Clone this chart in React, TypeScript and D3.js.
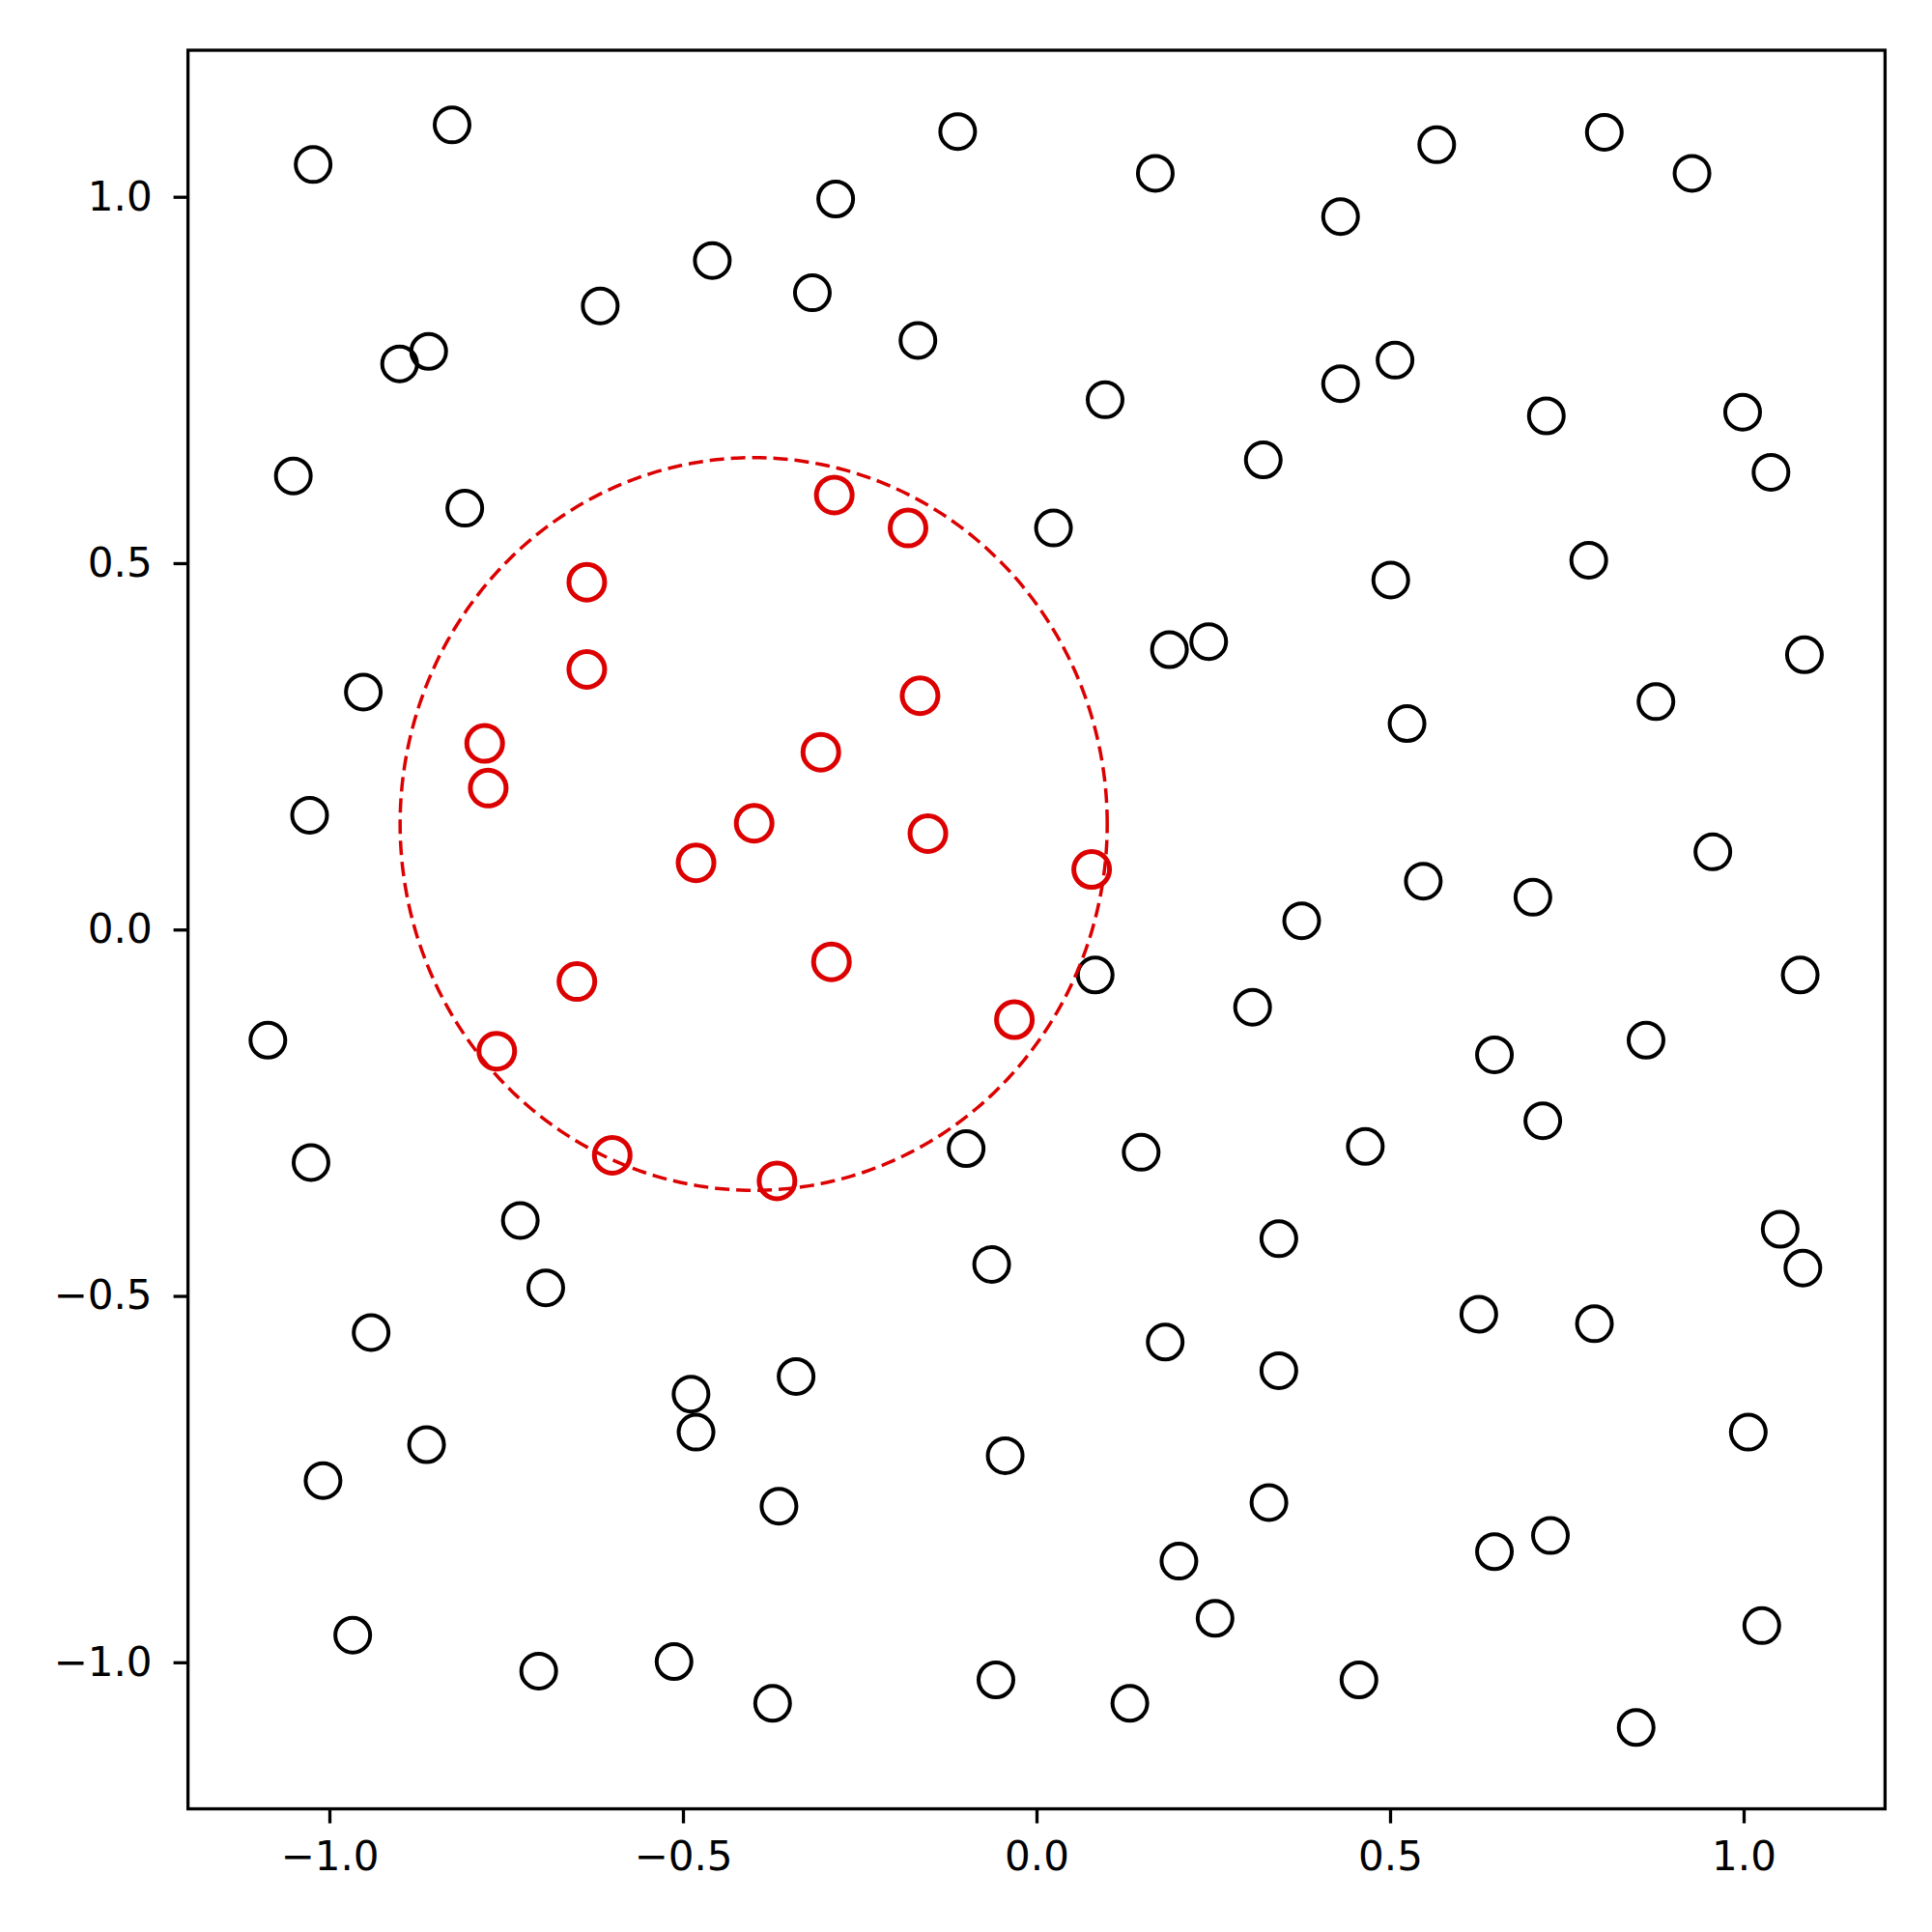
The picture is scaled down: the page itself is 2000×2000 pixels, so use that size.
import React, { useEffect, useRef } from 'react';
import * as d3 from 'd3';

// points outside the circle
const outsideX = [
  -1.023, -0.8265, -0.1115, -0.284, 0.168, 0.566, 0.803, 0.927, 0.43, -0.4585,
  -0.317, -0.617, -0.8596, -0.9007, -0.1677, 0.507, 0.43, 0.097, 0.721, 0.9986,
  -1.051, 0.3207, 1.0387, -0.8085, 0.024, 0.781, 0.501, 0.188, 0.2435, 1.086,
  -0.952, 0.876, 0.524, -1.028, 0.9565, 0.547, 0.702, 0.375, 0.083, 1.08,
  0.3056, -1.087, 0.862, 0.6476, 0.716, -0.0995, 0.148, 0.465, -1.026, -0.73,
  1.0517, 0.3427, -0.0634, 1.0838, -0.694, 0.6255, -0.941, 0.789, 0.182, -0.34,
  0.3427, -0.4886, -0.4815, 1.0066, -0.8626, -0.0443, -1.009, -0.3642, 0.3287, 0.7268,
  0.6476, 0.2014, 0.2525, 1.0257, -0.967, -0.704, -0.5126, -0.0574, 0.456, -0.3732,
  0.132, 0.848,
];
const outsideY = [
  1.044, 1.098, 1.089, 0.997, 1.032, 1.071, 1.088, 1.032, 0.973, 0.913,
  0.869, 0.851, 0.789, 0.772, 0.804, 0.777, 0.745, 0.723, 0.701, 0.706,
  0.619, 0.641, 0.624, 0.575, 0.548, 0.504, 0.477, 0.382, 0.393, 0.375,
  0.324, 0.311, 0.281, 0.156, 0.106, 0.066, 0.044, 0.012, -0.062, -0.062,
  -0.106, -0.151, -0.151, -0.171, -0.261, -0.299, -0.304, -0.296, -0.318, -0.397,
  -0.409, -0.422, -0.457, -0.462, -0.489, -0.525, -0.55, -0.538, -0.563, -0.61,
  -0.602, -0.634, -0.686, -0.686, -0.703, -0.718, -0.752, -0.787, -0.782, -0.827,
  -0.849, -0.862, -0.94, -0.95, -0.963, -1.012, -0.999, -1.024, -1.024, -1.056,
  -1.056, -1.089,
];

// points inside the circle
const insideX = [
  -0.286, -0.1817, -0.636, -0.636, -0.1647, -0.7804, -0.305, -0.7754, -0.3993,
  -0.1536, -0.4815, 0.078, -0.29, -0.65, -0.0313, -0.7633, -0.6, -0.367,
];
const insideY = [
  0.593, 0.548, 0.474, 0.355, 0.319, 0.254, 0.242, 0.193, 0.145,
  0.131, 0.091, 0.082, -0.044, -0.071, -0.123, -0.166, -0.308, -0.343,
];

const circleCenter = [-0.4, 0.144];
const circleRadius = 0.5;

const tickValues = [-1.0, -0.5, 0.0, 0.5, 1.0];

const App = () => {
  const svgRef = useRef<SVGSVGElement>(null);

  useEffect(() => {
    const svg = d3.select(svgRef.current);
    svg.selectAll('*').remove();

    const width = 2000;
    const height = 2000;
    const left = 194.6, right = 1951.4, top = 52, bottom = 1872.5;

    svg.attr('width', width).attr('height', height).style('background', '#fff');

    const x = d3.scaleLinear().domain([-1.2, 1.2]).range([left, right]);
    const y = d3.scaleLinear().domain([-1.2, 1.2]).range([bottom, top]);

    const fmt = (d: number) => d3.format('.1f')(d);

    const outside = outsideX.map((v, i) => ({ x: v, y: outsideY[i] }));
    const inside = insideX.map((v, i) => ({ x: v, y: insideY[i] }));

    svg.append('g')
      .selectAll('circle')
      .data(outside)
      .join('circle')
      .attr('cx', d => x(d.x))
      .attr('cy', d => y(d.y))
      .attr('r', 18)
      .attr('fill', 'none')
      .attr('stroke', '#000')
      .attr('stroke-width', 4);

    svg.append('g')
      .selectAll('circle')
      .data(inside)
      .join('circle')
      .attr('cx', d => x(d.x))
      .attr('cy', d => y(d.y))
      .attr('r', 18.5)
      .attr('fill', 'none')
      .attr('stroke', '#dc0000')
      .attr('stroke-width', 5);

    // dashed boundary circle
    const ring = d3.range(0, 361, 1).map(a => [
      circleCenter[0] + circleRadius * Math.cos((a * Math.PI) / 180),
      circleCenter[1] + circleRadius * Math.sin((a * Math.PI) / 180),
    ]);
    svg.append('path')
      .datum(ring)
      .attr('d', d3.line<number[]>().x(d => x(d[0])).y(d => y(d[1])))
      .attr('fill', 'none')
      .attr('stroke', '#dc0000')
      .attr('stroke-width', 3.5)
      .attr('stroke-dasharray', '15,7');

    const xAxis = svg.append('g')
      .attr('transform', `translate(0,${bottom})`)
      .call(d3.axisBottom(x).tickValues(tickValues).tickSize(15).tickPadding(19).tickFormat(fmt as any));

    const yAxis = svg.append('g')
      .attr('transform', `translate(${left},0)`)
      .call(d3.axisLeft(y).tickValues(tickValues).tickSize(15).tickPadding(22).tickFormat(fmt as any));

    [xAxis, yAxis].forEach(g => {
      g.select('.domain').remove();
      g.selectAll('line').attr('stroke', '#000').attr('stroke-width', 3.3);
      g.selectAll('text')
        .attr('fill', '#000')
        .style('font-family', '"DejaVu Sans", sans-serif')
        .style('font-size', '42px');
    });

    svg.append('rect')
      .attr('x', left)
      .attr('y', top)
      .attr('width', right - left)
      .attr('height', bottom - top)
      .attr('fill', 'none')
      .attr('stroke', '#000')
      .attr('stroke-width', 3.3);
  }, []);

  return (
    <div style={{ position: 'absolute', left: 0, top: 0 }}>
      <svg ref={svgRef} style={{ display: 'block' }}></svg>
    </div>
  );
};

export default App;
